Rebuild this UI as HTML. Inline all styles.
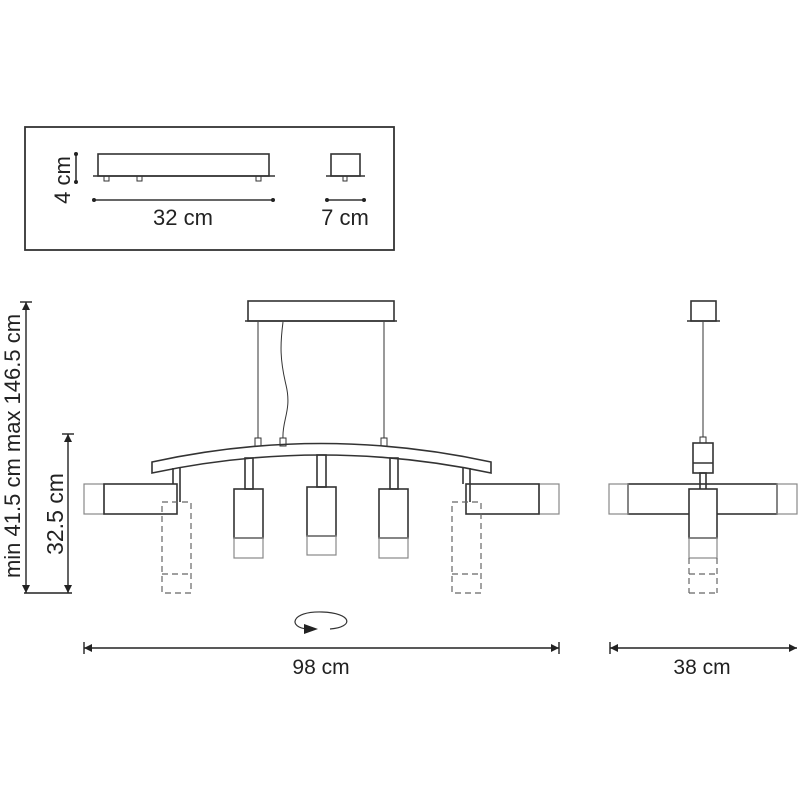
<!DOCTYPE html>
<html><head><meta charset="utf-8"><style>html,body{margin:0;padding:0;background:#fff}svg{display:block}text{font-family:"Liberation Sans",sans-serif;fill:#222}</style></head><body>
<svg width="800" height="800" viewBox="0 0 800 800" xmlns="http://www.w3.org/2000/svg">
<defs>
<marker id="a" viewBox="0 0 10 10" refX="10" refY="5" markerWidth="13" markerHeight="8" markerUnits="userSpaceOnUse" orient="auto-start-reverse"><path d="M0,0 L10,5 L0,10 z" fill="#222"/></marker>
</defs>
<g fill="none" stroke="#333" stroke-width="1.6">
<rect x="25" y="127" width="369" height="123" stroke-width="1.8"/>
<rect x="98" y="154" width="171" height="22"/>
<line x1="93" y1="176" x2="275" y2="176"/>
<rect x="104" y="176" width="5" height="5" stroke-width="1"/>
<rect x="137" y="176" width="5" height="5" stroke-width="1"/>
<rect x="256" y="176" width="5" height="5" stroke-width="1"/>
<line x1="94" y1="200" x2="273" y2="200"/>
<rect x="331" y="154" width="29" height="22"/>
<line x1="326" y1="176" x2="365" y2="176"/>
<rect x="343" y="176" width="4" height="5" stroke-width="1"/>
<line x1="327" y1="200" x2="364" y2="200"/>
<line x1="76" y1="154" x2="76" y2="182"/>
</g>
<g fill="#222"><circle cx="94" cy="200" r="2"/><circle cx="273" cy="200" r="2"/><circle cx="327" cy="200" r="2"/><circle cx="364" cy="200" r="2"/><circle cx="76" cy="154" r="2"/><circle cx="76" cy="182" r="2"/></g>
<text x="183" y="225" font-size="22" text-anchor="middle">32 cm</text>
<text x="345" y="225" font-size="22" text-anchor="middle">7 cm</text>
<text transform="translate(70,180) rotate(-90)" font-size="22" text-anchor="middle">4 cm</text>

<g fill="none" stroke="#333" stroke-width="1.6">
<rect x="248" y="301" width="146" height="20"/>
<line x1="245" y1="321" x2="397" y2="321"/>
<line x1="258" y1="322" x2="258" y2="438" stroke-width="1"/>
<line x1="384" y1="322" x2="384" y2="438" stroke-width="1"/>
<path d="M283,322 C280,345 280,360 286,385 C292,410 282,420 283,438" stroke-width="1"/>
<rect x="255" y="438" width="6" height="8" stroke-width="1"/>
<rect x="280" y="438" width="6" height="8" stroke-width="1"/>
<rect x="381" y="438" width="6" height="8" stroke-width="1"/>
<path d="M152,462 Q321,425 491,462 L491,473 Q321,437 152,473 Z"/>
<rect x="245" y="458" width="8" height="31"/>
<rect x="317" y="455" width="9" height="32"/>
<rect x="390" y="458" width="8" height="31"/>
<rect x="234" y="489" width="29" height="49"/>
<rect x="307" y="487" width="29" height="49"/>
<rect x="379" y="489" width="29" height="49"/>
</g>
<g fill="none" stroke="#888" stroke-width="1.2">
<rect x="234" y="538" width="29" height="20"/>
<rect x="307" y="536" width="29" height="19"/>
<rect x="379" y="538" width="29" height="20"/>
<rect x="84" y="484" width="20" height="30"/>
<rect x="539" y="484" width="20" height="30"/>
</g>
<g fill="none" stroke="#333" stroke-width="1.6">
<line x1="173" y1="468" x2="173" y2="484"/><line x1="180" y1="468" x2="180" y2="502"/>
<rect x="104" y="484" width="73" height="30"/>
<line x1="470" y1="468" x2="470" y2="502"/><line x1="463" y1="468" x2="463" y2="484"/>
<rect x="466" y="484" width="73" height="30"/>
</g>
<g fill="none" stroke="#666" stroke-width="1.2" stroke-dasharray="6,4">
<rect x="162" y="502" width="29" height="91"/><line x1="162" y1="574" x2="191" y2="574"/>
<rect x="452" y="502" width="29" height="91"/><line x1="452" y1="574" x2="481" y2="574"/>
</g>
<path d="M330,629 C355,627 352,613 322,612 C290,611 288,628 308,629" fill="none" stroke="#333" stroke-width="1.2"/>
<path d="M304,624 L318,629 L304,634 z" fill="#222"/>

<g fill="none" stroke="#333" stroke-width="1.6">
<rect x="691" y="301" width="25" height="20"/>
<line x1="687" y1="321" x2="720" y2="321"/>
<line x1="703" y1="322" x2="703" y2="437" stroke-width="1"/>
<rect x="700" y="437" width="6" height="6" stroke-width="1"/>
<rect x="693" y="443" width="20" height="30"/><line x1="693" y1="463" x2="713" y2="463"/>
<rect x="700" y="473" width="6" height="29"/>
<rect x="628" y="484" width="149" height="30"/>
<rect x="689" y="489" width="28" height="49" fill="#fff"/>
</g>
<g fill="none" stroke="#888" stroke-width="1.2">
<rect x="609" y="484" width="19" height="30"/><rect x="777" y="484" width="20" height="30"/>
<rect x="689" y="538" width="28" height="20"/>
</g>
<g fill="none" stroke="#666" stroke-width="1.2" stroke-dasharray="6,4">
<line x1="689" y1="558" x2="689" y2="593"/><line x1="717" y1="558" x2="717" y2="593"/><line x1="689" y1="593" x2="717" y2="593"/><line x1="689" y1="574" x2="717" y2="574"/>
</g>

<g stroke="#222" stroke-width="1.4" fill="none">
<line x1="26" y1="302" x2="26" y2="593" marker-start="url(#a)" marker-end="url(#a)"/>
<line x1="20" y1="302" x2="32" y2="302"/>
<line x1="68" y1="434" x2="68" y2="593" marker-start="url(#a)" marker-end="url(#a)"/>
<line x1="62" y1="434" x2="74" y2="434"/>
<line x1="24" y1="593" x2="72" y2="593"/>
<line x1="84" y1="648" x2="559" y2="648" marker-start="url(#a)" marker-end="url(#a)"/>
<line x1="84" y1="642" x2="84" y2="654"/><line x1="559" y1="642" x2="559" y2="654"/>
<line x1="610" y1="648" x2="797" y2="648" marker-start="url(#a)" marker-end="url(#a)"/>
<line x1="610" y1="642" x2="610" y2="654"/>
</g>
<text transform="translate(20,446) rotate(-90)" font-size="22" text-anchor="middle">min 41.5 cm max 146.5 cm</text>
<text transform="translate(63,514) rotate(-90)" font-size="23" text-anchor="middle">32.5 cm</text>
<text x="321" y="674" font-size="21" text-anchor="middle">98 cm</text>
<text x="702" y="674" font-size="21" text-anchor="middle">38 cm</text>
</svg>
</body></html>
